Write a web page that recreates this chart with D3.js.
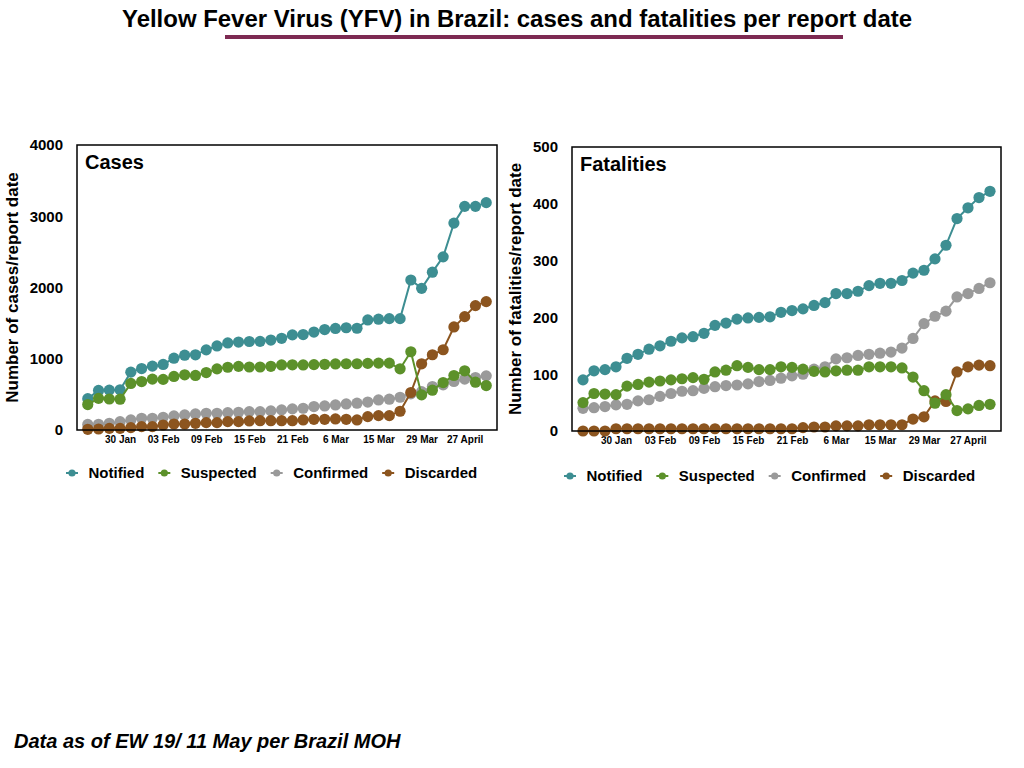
<!DOCTYPE html>
<html>
<head>
<meta charset="utf-8">
<title>YFV Brazil</title>
<script src="https://cdn.jsdelivr.net/npm/d3@7"></script>
<style>
	body { margin: 0; background: #fff; }
	svg { display: block; font-family: "Liberation Sans", Arial, Helvetica, sans-serif; font-weight: bold; }
	.axis text { font-weight: bold; fill: #000; }
</style>
</head>
<body>
<svg id="chart" width="1024" height="768"></svg>
<script>
'use strict';

// report dates (38 reports), only some of them are labelled
var seriesNames = ['Notified', 'Suspected', 'Confirmed', 'Discarded'];
var seriesColors = ['#3d8e92', '#5c912a', '#9a9a9a', '#8c551f'];

var tickLabels = ['30 Jan', '03 Feb', '09 Feb', '15 Feb', '21 Feb', '6 Mar', '15 Mar', '29 Mar', '27 April'];
var tickIdx = [3, 7, 11, 15, 19, 23, 27, 31, 35];

var casesTicks = [0, 1000, 2000, 3000, 4000];
var fatalTicks = [0, 100, 200, 300, 400, 500];

var casesNotified = [440, 555, 560, 565, 812, 862, 897, 920, 1008, 1050,
	1055, 1125, 1180, 1222, 1234, 1242, 1244, 1262, 1287, 1335,
	1340, 1375, 1410, 1425, 1435, 1428, 1545, 1555, 1563, 1563,
	2105, 1988, 2215, 2430, 2904, 3139, 3139, 3191];
var casesSuspected = [357, 444, 435, 432, 653, 680, 714, 710, 752, 775,
	766, 806, 858, 881, 893, 884, 884, 894, 913, 915,
	913, 918, 922, 927, 930, 930, 935, 939, 939, 859,
	1098, 493, 559, 666, 765, 831, 671, 624];
var casesConfirmed = [78, 80, 94, 117, 141, 164, 164, 178, 197, 211,
	225, 235, 235, 244, 249, 258, 258, 268, 282, 296,
	305, 329, 338, 352, 366, 376, 392, 422, 432, 460,
	507, 539, 610, 634, 681, 714, 737, 760];
var casesDiscarded = [10, 14, 23, 23, 33, 47, 47, 70, 84, 84,
	94, 103, 103, 117, 117, 127, 131, 131, 131, 131,
	141, 150, 150, 155, 150, 141, 188, 202, 202, 263,
	526, 929, 1056, 1126, 1446, 1591, 1746, 1802];

var fatalNotified = [90, 106, 108, 113, 128, 135, 144, 150, 158, 164,
	166, 172, 186, 190, 197, 199, 200, 201, 209, 212,
	215, 221, 226, 242, 242, 246, 256, 260, 260, 265,
	278, 283, 303, 327, 374, 393, 411, 422];
var fatalSuspected = [50, 66, 65, 64, 79, 82, 86, 88, 90, 92,
	94, 91, 104, 107, 115, 112, 108, 108, 113, 112,
	109, 105, 104, 106, 107, 107, 113, 113, 113, 111,
	95, 71, 49, 64, 36, 39, 45, 47];
var fatalConfirmed = [40, 41, 43, 46, 47, 53, 55, 61, 66, 70,
	71, 75, 78, 80, 81, 83, 87, 89, 93, 97,
	100, 109, 113, 127, 129, 133, 135, 137, 139, 146,
	163, 189, 202, 211, 236, 242, 251, 261];
var fatalDiscarded = [0, 0, 0, 4, 4, 4, 4, 4, 4, 4,
	4, 4, 4, 4, 4, 4, 4, 4, 4, 4,
	6, 7, 7, 9, 9, 9, 11, 11, 11, 11,
	21, 25, 53, 52, 104, 113, 116, 115];

var svg = d3.select('#chart');


/**
* draw one panel: frame, axes, lines with dots, legend
* @param {object} p panel settings
* @returns {undefined}
*/
const drawPanel = function(p) {
	var n = p.series[0].length;

	var x = d3.scalePoint()
		.domain(d3.range(n))
		.range([p.left, p.right])
		.padding(1);

	var y = d3.scaleLinear()
		.domain([0, p.yTicks[p.yTicks.length - 1]])
		.range([p.bottom, p.top]);

	var yAxis = d3.axisLeft(y)
		.tickValues(p.yTicks)
		.tickFormat(d3.format('d'))
		.tickSize(0)
		.tickPadding(14);

	var xAxis = d3.axisBottom(x)
		.tickValues(tickIdx)
		.tickFormat(function(d) { return tickLabels[tickIdx.indexOf(d)]; })
		.tickSize(0)
		.tickPadding(6);

	var gy = svg.append('g')
		.attr('class', 'axis')
		.attr('transform', 'translate(' + p.left + ',0)')
		.call(yAxis);
	gy.select('.domain').remove();
	gy.selectAll('text').style('font-size', '15px');

	var gx = svg.append('g')
		.attr('class', 'axis')
		.attr('transform', 'translate(0,' + p.bottom + ')')
		.call(xAxis);
	gx.select('.domain').remove();
	gx.selectAll('text').style('font-size', '10px');

	// draw order: confirmed, discarded, notified, suspected
	var order = [2, 3, 0, 1];
	var line = d3.line()
		.x(function(d, i) { return x(i); })
		.y(function(d) { return y(d); });

	order.forEach(function(k) {
		var g = svg.append('g');
		g.append('path')
			.datum(p.series[k])
			.attr('d', line)
			.attr('fill', 'none')
			.attr('stroke', seriesColors[k])
			.attr('stroke-width', 2);
		g.selectAll('circle')
			.data(p.series[k])
			.enter()
			.append('circle')
			.attr('cx', function(d, i) { return x(i); })
			.attr('cy', function(d) { return y(d); })
			.attr('r', 5.6)
			.attr('fill', seriesColors[k]);
	});

	// frame round the plot area
	svg.append('rect')
		.attr('x', p.left)
		.attr('y', p.top)
		.attr('width', p.right - p.left)
		.attr('height', p.bottom - p.top)
		.attr('fill', 'none')
		.attr('stroke', '#000')
		.attr('stroke-width', 1.5);

	svg.append('text')
		.attr('x', p.left + 8)
		.attr('y', p.top + 24)
		.style('font-size', '20px')
		.text(p.label);

	svg.append('text')
		.attr('transform', 'translate(' + p.titleX + ',' + ((p.top + p.bottom) / 2) + ') rotate(-90)')
		.attr('text-anchor', 'middle')
		.attr('dy', '0.35em')
		.style('font-size', '17px')
		.text(p.yTitle);

	// legend, items flow from left to right
	var lx = p.legendX;
	seriesNames.forEach(function(name, k) {
		var item = svg.append('g')
			.attr('transform', 'translate(' + lx + ',' + p.legendY + ')');
		item.append('line')
			.attr('x1', -6).attr('x2', 6)
			.attr('stroke', seriesColors[k])
			.attr('stroke-width', 2);
		item.append('circle')
			.attr('r', 3.6)
			.attr('fill', seriesColors[k]);
		var t = item.append('text')
			.attr('x', 16.5)
			.attr('dy', '0.36em')
			.style('font-size', '15px')
			.text(name);
		lx += 16.5 + t.node().getComputedTextLength() + 20;
	});
};


// title with underline
svg.append('text')
	.attr('x', 517)
	.attr('y', 27)
	.attr('text-anchor', 'middle')
	.attr('textLength', 790)
	.attr('lengthAdjust', 'spacingAndGlyphs')
	.style('font-family', '"Liberation Sans Narrow", "Liberation Sans", Arial, sans-serif')
	.style('font-size', '23px')
	.text('Yellow Fever Virus (YFV) in Brazil: cases and fatalities per report date');

svg.append('rect')
	.attr('x', 225)
	.attr('y', 35)
	.attr('width', 618)
	.attr('height', 4)
	.attr('fill', '#7d2a52');

drawPanel({
	series: [casesNotified, casesSuspected, casesConfirmed, casesDiscarded],
	yTicks: casesTicks,
	left: 77, right: 497, top: 145, bottom: 430,
	label: 'Cases',
	yTitle: 'Number of cases/report date',
	titleX: 12,
	legendX: 72, legendY: 473
});

drawPanel({
	series: [fatalNotified, fatalSuspected, fatalConfirmed, fatalDiscarded],
	yTicks: fatalTicks,
	left: 572, right: 1001, top: 147, bottom: 431,
	label: 'Fatalities',
	yTitle: 'Number of fatalities/report date',
	titleX: 515,
	legendX: 570, legendY: 476
});

svg.append('text')
	.attr('x', 14)
	.attr('y', 748)
	.style('font-size', '20px')
	.style('font-style', 'italic')
	.text('Data as of EW 19/ 11 May per Brazil MOH');
</script>
</body>
</html>
